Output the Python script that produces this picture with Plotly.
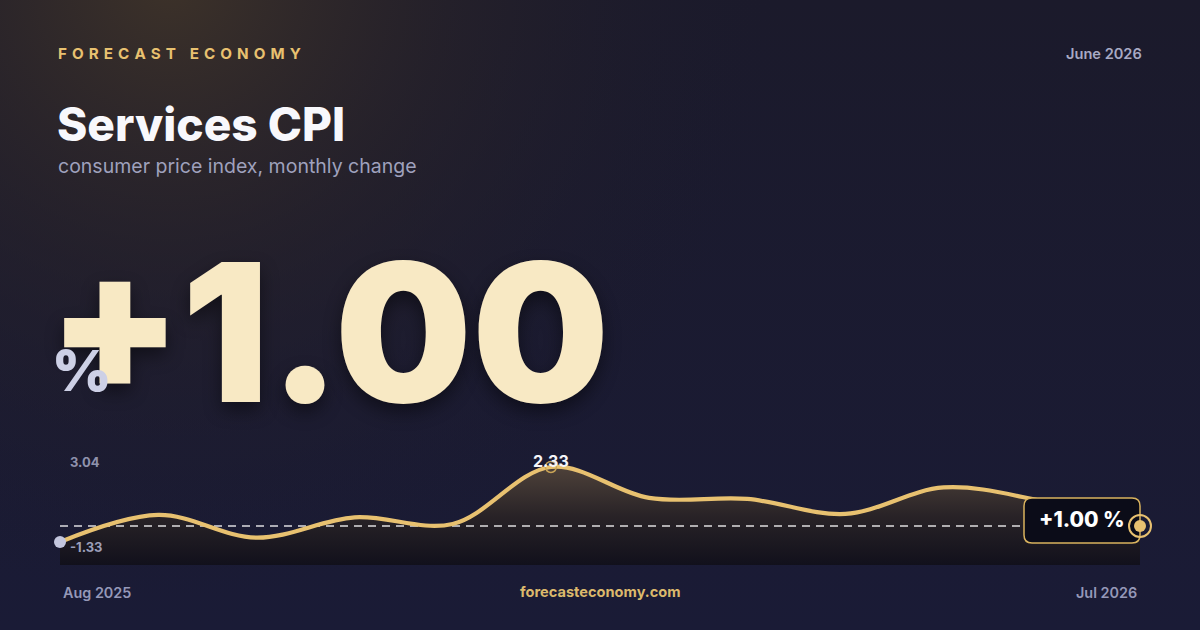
import base64
import plotly.graph_objects as go

# ---------------- data ----------------
months = ["Aug 2025", "Sep 2025", "Oct 2025", "Nov 2025", "Dec 2025", "Jan 2026",
          "Feb 2026", "Mar 2026", "Apr 2026", "May 2026", "Jun 2026", "Jul 2026"]
values = [-1.33, -0.01, -1.12, -0.13, -0.45, 2.33, 0.82, 0.77, 0.04, 1.33, 0.67, -0.55]
axis_top_label = 3.04
headline_value = 1.00

brand = "FORECAST ECONOMY"
date_label = "June 2026"
title = "Services CPI"
subtitle = "consumer price index, monthly change"
site = "forecasteconomy.com"

# ---------------- style ----------------
GOLD = "#e8c170"
W, H = 1200, 630
FONT = "Inter"

vmin, vmax = min(values), max(values)
span = vmax - vmin
lo = vmin - span * 0.307
hi = vmax + span * 0.293
imax = values.index(vmax)
n = len(months)
x_left, x_right = 60, 1152          # plot area in pixels (extra room on right for end marker)
x_last = 1140                       # pixel position wanted for last category
x_extra = (x_right - x_last) / ((x_last - x_left) / (n - 1))


def px(x):
    return x / W


def py(y):
    return 1 - y / H


svg = f"""<svg xmlns='http://www.w3.org/2000/svg' width='{W}' height='{H}'>
<defs>
<linearGradient id='b' x1='0' y1='0' x2='0' y2='1'>
<stop offset='0' stop-color='#1b1a2b'/><stop offset='1' stop-color='#1a1b36'/>
</linearGradient>
<radialGradient id='r' gradientUnits='userSpaceOnUse' cx='170' cy='-20' r='620'>
<stop offset='0' stop-color='#3d3229' stop-opacity='1'/>
<stop offset='0.45' stop-color='#2a2429' stop-opacity='0.6'/>
<stop offset='1' stop-color='#1b1a2c' stop-opacity='0'/>
</radialGradient>
</defs>
<rect width='{W}' height='{H}' fill='url(#b)'/>
<rect width='{W}' height='{H}' fill='url(#r)'/>
</svg>"""
bg_src = "data:image/svg+xml;base64," + base64.b64encode(svg.encode()).decode()

fig = go.Figure()

# baseline for area fill
fig.add_trace(go.Scatter(x=months, y=[lo] * n, mode="lines",
                         line=dict(width=0), hoverinfo="skip", showlegend=False))
# area
fig.add_trace(go.Scatter(
    x=months, y=values, mode="lines", fill="tonexty",
    line=dict(width=0, shape="spline", smoothing=1),
    fillgradient=dict(type="vertical", start=lo, stop=vmax,
                      colorscale=[[0, "rgba(17,16,27,0.97)"],
                                  [0.5, "rgba(41,35,38,0.96)"],
                                  [1, "rgba(80,67,58,0.96)"]]),
    hoverinfo="skip", showlegend=False))
# reference dashed line at latest level
fig.add_trace(go.Scatter(x=[months[0], months[-1]], y=[values[-1]] * 2, mode="lines",
                         line=dict(color="rgba(255,255,255,0.85)", width=1.5, dash="8px,6px"),
                         hoverinfo="skip", showlegend=False))
# main line
fig.add_trace(go.Scatter(x=months, y=values, mode="lines",
                         line=dict(color=GOLD, width=4.2, shape="spline", smoothing=1),
                         hoverinfo="skip", showlegend=False, cliponaxis=False))
# first point
fig.add_trace(go.Scatter(x=[months[0]], y=[values[0]], mode="markers",
                         marker=dict(color="#c3c6de", size=12),
                         hoverinfo="skip", showlegend=False, cliponaxis=False))
# peak
fig.add_trace(go.Scatter(x=[months[imax]], y=[vmax], mode="markers",
                         marker=dict(symbol="circle-open", color="#c9a457", size=11,
                                     line=dict(width=1.5, color="#c9a457")),
                         hoverinfo="skip", showlegend=False, cliponaxis=False))

shapes = [
    # badge (rounded), anchored on latest point
    dict(type="path", layer="above", xref="x", yref="y",
         xsizemode="pixel", ysizemode="pixel",
         xanchor=months[-1], yanchor=values[-1],
         path="M -108 28 L -8 28 Q 0 28 0 20 L 0 -9 Q 0 -17 -8 -17 L -108 -17 "
              "Q -116 -17 -116 -9 L -116 20 Q -116 28 -108 28 Z",
         fillcolor="#0b0c18", line=dict(color="#d9b35e", width=1.5)),
    dict(type="circle", layer="above", xref="x", yref="y",
         xsizemode="pixel", ysizemode="pixel",
         xanchor=months[-1], yanchor=values[-1],
         x0=-11, x1=11, y0=-11, y1=11,
         fillcolor="rgba(0,0,0,0)", line=dict(color=GOLD, width=2)),
    dict(type="circle", layer="above", xref="x", yref="y",
         xsizemode="pixel", ysizemode="pixel",
         xanchor=months[-1], yanchor=values[-1],
         x0=-6, x1=6, y0=-6, y1=6,
         fillcolor=GOLD, line=dict(width=0)),
]

ann = []


def text(x, y, s, size, color, weight=400, xanchor="left", family=FONT, shadow=None):
    f = dict(family=family, size=size, color=color, weight=weight)
    if shadow:
        f["shadow"] = shadow
    ann.append(dict(xref="paper", yref="paper", x=px(x), y=py(y), text=s,
                    showarrow=False, xanchor=xanchor, yanchor="middle", font=f))


spaced = "\u2004".join(brand)
text(56, 53, spaced, 15.2, GOLD, 700)
text(1144, 54, date_label, 14.6, "#a8aac4", 600, "right")
text(55, 124, title, 46, "#f8f8fc", 800)
text(56, 166, subtitle, 19.5, "#9fa1bd", 400)
text(46, 332, f"{headline_value:+.2f}", 193, "#f8e9c4", 900,
     shadow="0px 8px 18px rgba(0,0,0,0.45)")
text(50, 370, "%", 57, "#cdd0e6", 900)
text(61, 592, months[0], 14.4, "#9598b8", 600)
text(600, 592, site, 14.6, "#dcb96c", 700, "center")
text(1139, 592, months[-1], 14.4, "#9598b8", 600, "right")

# data labels
ann.append(dict(xref="x", yref="y", x=months[imax], y=vmax, text=f"{vmax:.2f}",
                showarrow=False, yshift=6, xanchor="center", yanchor="middle",
                font=dict(family=FONT, size=16, color="#f4f4f8", weight=700)))
ann.append(dict(xref="x", yref="y", x=months[0], y=values[0], text=f"{values[0]:.2f}",
                showarrow=False, xshift=8, yshift=-5, xanchor="left", yanchor="middle",
                font=dict(family=FONT, size=13, color="#9c9fba", weight=700)))
ann.append(dict(xref="x", yref="y", x=months[0], y=axis_top_label, text=f"{axis_top_label:.2f}",
                showarrow=False, xshift=8, xanchor="left", yanchor="top",
                font=dict(family=FONT, size=13, color="#8f92ad", weight=700)))
ann.append(dict(xref="x", yref="y", x=months[-1], y=values[-1],
                text=f"{headline_value:+.2f} %", showarrow=False,
                xshift=-58, yshift=6, xanchor="center", yanchor="middle",
                font=dict(family=FONT, size=21, color="#ffffff", weight=800)))

fig.update_layout(
    width=W, height=H, margin=dict(l=0, r=0, t=0, b=0),
    paper_bgcolor="#1a1a2e", plot_bgcolor="rgba(0,0,0,0)",
    showlegend=False,
    xaxis=dict(type="category", range=[0, n - 1 + x_extra],
               domain=[x_left / W, x_right / W], visible=False, fixedrange=True),
    yaxis=dict(range=[lo, hi], domain=[65 / H, 185 / H], visible=False, fixedrange=True),
    images=[dict(source=bg_src, xref="paper", yref="paper", x=0, y=1, sizex=1, sizey=1,
                 xanchor="left", yanchor="top", sizing="stretch", layer="below")],
    shapes=shapes,
    annotations=ann,
)

fig.write_html("out.html", config={"displayModeBar": False},
               post_script="document.body.style.margin='0';"
                           "document.body.style.overflow='hidden';"
                           "document.body.style.background='#1a1a2e';")
